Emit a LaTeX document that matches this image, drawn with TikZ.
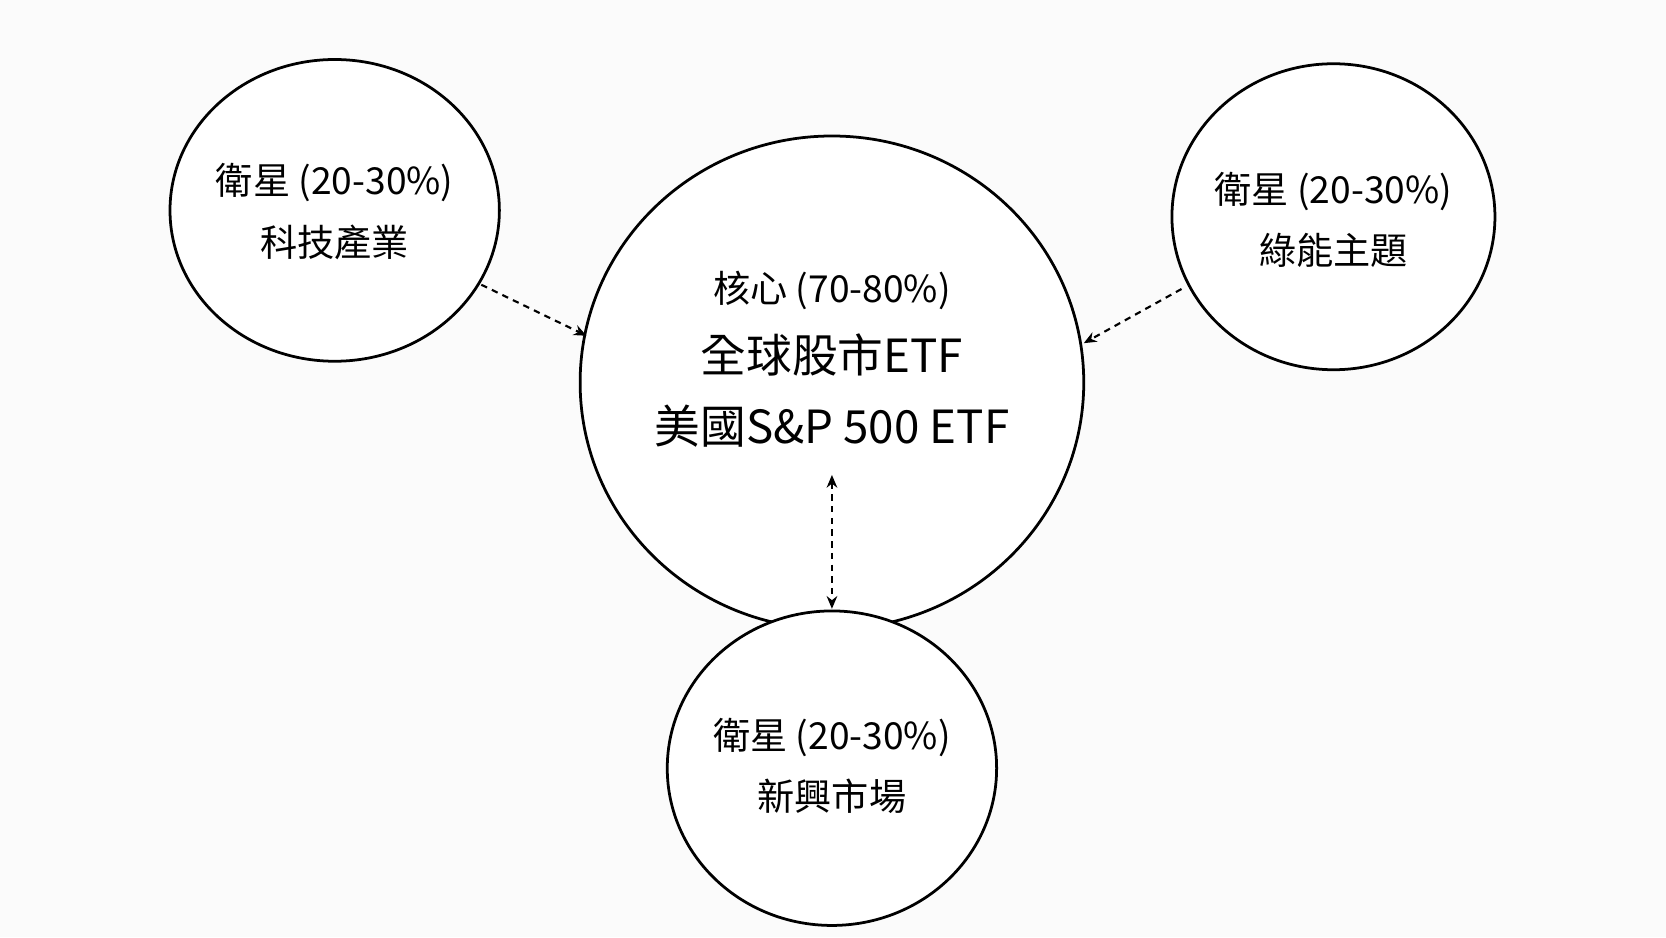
\documentclass[tikz,border=0pt]{standalone}
\usepackage{fontspec}
\usetikzlibrary{arrows.meta}
\setmainfont{Noto Sans CJK TC}
\begin{document}
\begin{tikzpicture}[x=1pt,y=-1pt,
  bub/.style={draw,line width=2.6pt,fill=white},
  lbl/.style={align=center,font=\fontsize{35}{58}\selectfont},
  big/.style={align=center,font=\fontsize{43}{66}\selectfont},
  conn/.style={line width=2pt,-{Stealth[length=12pt,width=10pt]},dash pattern=on 6pt off 5pt}]
\fill[white!97!gray] (0,0) rectangle (1568,882);
\useasboundingbox (0,0) rectangle (1568,882);
\draw[bub] (783,360) ellipse [x radius=237,y radius=232];
\draw[bub] (783,723) ellipse [x radius=155,y radius=148];
\draw[bub] (315,198) ellipse [x radius=155,y radius=142];
\draw[bub] (1255,204) ellipse [x radius=152,y radius=144];
\node[big] (core) at (783,338) {{\fontsize{35}{40}\selectfont 核心 (70-80\%)}\\全球股市ETF\\美國S\&P 500 ETF};
\node[lbl] (tech) at (315,199) {衛星 (20-30\%)\\科技產業};
\node[lbl] (green) at (1255,207) {衛星 (20-30\%)\\綠能主題};
\node[lbl] (em) at (783,721) {衛星 (20-30\%)\\新興市場};
\coordinate (a1) at (453,268); \coordinate (a2) at (552,316);
\coordinate (b1) at (1112,272); \coordinate (b2) at (1020,323);
\coordinate (c1) at (783,447); \coordinate (c2) at (783,573);
\draw[conn] (a1) -- (a2);
\draw[conn] (b1) -- (b2);
\draw[conn,{Stealth[length=12pt,width=10pt]}-{Stealth[length=12pt,width=10pt]}] (c1) -- (c2);
\end{tikzpicture}
\end{document}
